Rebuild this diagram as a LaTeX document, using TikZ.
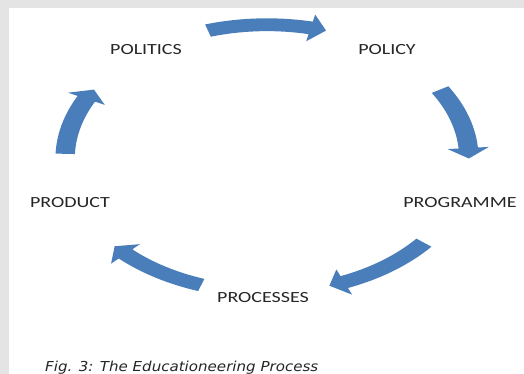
\documentclass[tikz,border=0pt]{standalone}
\usepackage{fontspec}
\newfontfamily\carlito{Carlito}
\newfontfamily\capfont{DejaVu Sans}
\definecolor{arrowblue}{HTML}{4A7EBB}
\definecolor{bggray}{HTML}{E4E4E4}
\definecolor{labelgray}{HTML}{262626}
\tikzset{
  lbl/.style={anchor=base, inner sep=0pt, text=labelgray, font=\carlito\fontsize{15.5}{18}\selectfont},
  captionstyle/.style={anchor=base west, inner sep=0pt, text=labelgray, font=\capfont\itshape\fontsize{13.7}{16}\selectfont},
  cyclearrow/.style={fill=arrowblue, draw=none},
}
\newcommand\widelabel[1]{\scalebox{1.29}[1]{#1}}
\newcommand\cycarrow[2]{%
  \fill[cyclearrow] plot[domain=#1:#2+4.5, samples=30] ({1.027*cos(\x)},{1.027*sin(\x)})
    -- (#2+4.5:1.08) -- (#2:0.98) -- (#2+4.5:0.88)
    -- plot[domain=#2+4.5:#1, samples=30] ({0.933*cos(\x)},{0.933*sin(\x)}) -- cycle;
}
\begin{document}
\begin{tikzpicture}
\useasboundingbox (0,0) rectangle (524pt,374pt);
\fill[bggray] (0,0) rectangle (524pt,374pt);
\fill[white] (9pt,0) rectangle (524pt,366pt);

\begin{scope}[shift={(267pt,215.5pt)}, x=206pt, y=136.5pt]
  \cycarrow{107}{73}
  \cycarrow{31}{0}
  \cycarrow{-39}{-72}
  \cycarrow{-109}{-139}
  \cycarrow{178}{149}
\end{scope}

\node[lbl] (politics) at (146pt,319pt) {\widelabel{POLITICS}};
\node[lbl] (policy) at (387pt,319pt) {\widelabel{POLICY}};
\node[lbl] (programme) at (460pt,166pt) {\widelabel{PROGRAMME}};
\node[lbl] (processes) at (263pt,71pt) {\widelabel{PROCESSES}};
\node[lbl] (product) at (70pt,166pt) {\widelabel{PRODUCT}};
\node[captionstyle] (caption) at (45pt,2pt) {\scalebox{1.1}[1]{Fig. 3: The Educationeering Process}};
\end{tikzpicture}
\end{document}
